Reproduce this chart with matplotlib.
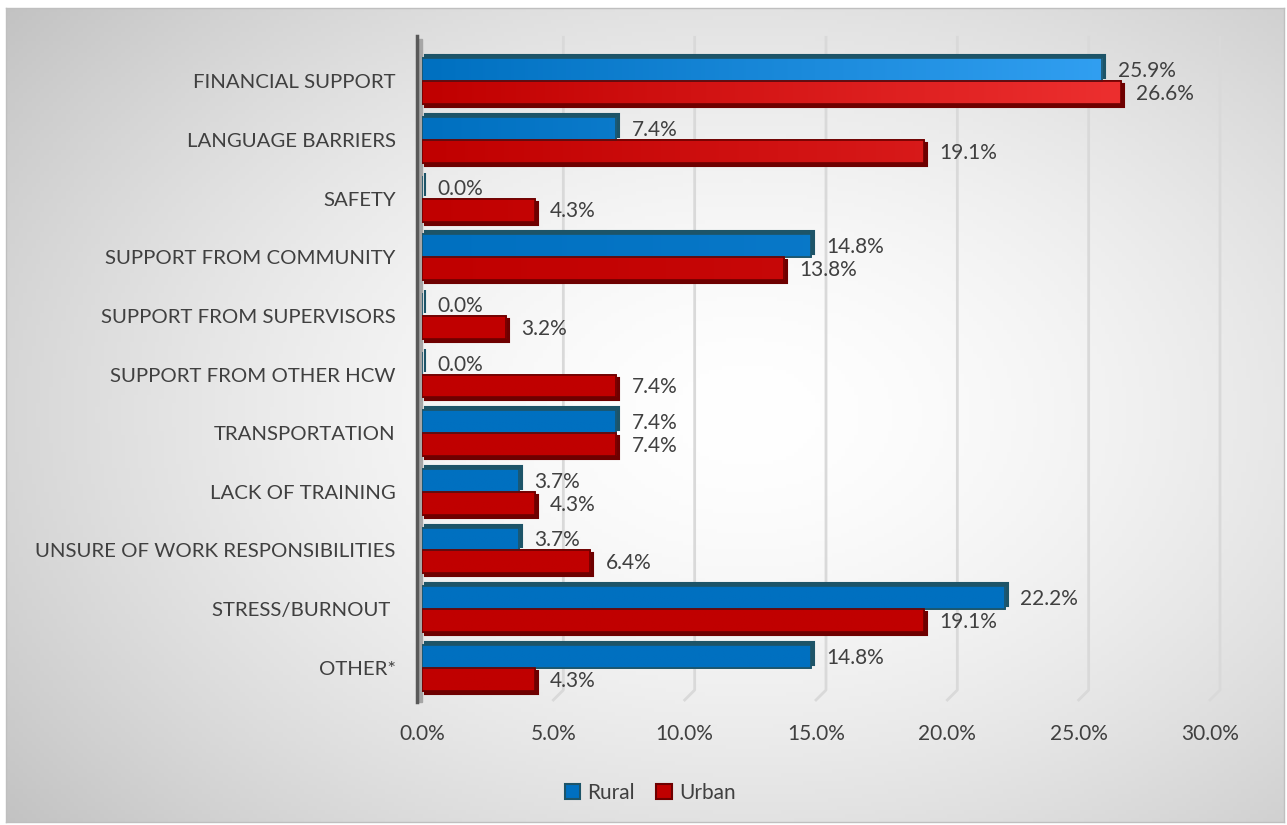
import numpy as np
import matplotlib
matplotlib.use("Agg")
import matplotlib.pyplot as plt
from matplotlib.transforms import ScaledTranslation
from matplotlib.patches import Rectangle
from matplotlib.lines import Line2D

# data (percent)
categories = ["FINANCIAL SUPPORT", "LANGUAGE BARRIERS", "SAFETY",
              "SUPPORT FROM COMMUNITY", "SUPPORT FROM SUPERVISORS",
              "SUPPORT FROM OTHER HCW", "TRANSPORTATION", "LACK OF TRAINING",
              "UNSURE OF WORK RESPONSIBILITIES", "STRESS/BURNOUT ", "OTHER*"]
rural = [25.9, 7.4, 0.0, 14.8, 0.0, 0.0, 7.4, 3.7, 3.7, 22.2, 14.8]
urban = [26.6, 19.1, 4.3, 13.8, 3.2, 7.4, 7.4, 4.3, 6.4, 19.1, 4.3]
xticks = [0, 5, 10, 15, 20, 25, 30]

plt.rcParams['font.family'] = ['Lato', 'DejaVu Sans']
text_col = "#404040"
blue, blue_dark, blue_light = "#0070C0", "#1d5468", "#38a6f8"
red, red_dark, red_light = "#C00000", "#6e0000", "#f23535"

fig = plt.figure(figsize=(12.87, 8.25), dpi=100)
W, H = 1287, 825

# background: radial grey gradient inside a thin border
bg = fig.add_axes([6 / W, 3 / H, 1278 / W, 814 / H])
yy, xx = np.mgrid[0:1:200j, 0:1:300j]
r = np.sqrt(((xx - 0.58) / 0.75) ** 2 + ((yy - 0.5) / 0.8) ** 2)
shade = 1.0 - 0.24 * np.clip(r, 0, 1) ** 1.6
bg.imshow(np.dstack([shade] * 3), extent=[0, 1, 0, 1], aspect="auto", origin="lower")
bg.set_xticks([])
bg.set_yticks([])
for s in bg.spines.values():
    s.set_color("#bfbfbf")
    s.set_linewidth(1)

ax = fig.add_axes([422 / W, 125 / H, 788 / W, 655 / H])
ax.patch.set_alpha(0)
n = len(categories)
y = np.arange(n)
h = 0.39

ax.set_xlim(0, 30)
ax.set_ylim(n - 0.45, -0.62)
px = 30 / 788  # one pixel in data units along x

# gridlines on the back wall + slanted floor segment
for t in xticks[1:]:
    ax.plot([t + 10 * px, t + 10 * px, t], [-0.75, n - 0.62, n - 0.45], color="#d9d9d9",
            lw=2, zorder=0, clip_on=False)

def lit(c0, c1, x, row):
    # light coming from the upper right
    k = np.clip(x / 30, 0, 1) * max(0.0, 1 - row / 5.0) ** 1.3
    a = np.array(matplotlib.colors.to_rgb(c0))
    b = np.array(matplotlib.colors.to_rgb(c1))
    return a[None, :] + k[:, None] * (b - a)[None, :]

def draw_series(vals, offs, face, dark, light, dy, label):
    dep = ScaledTranslation(3 / 100, dy / 100, fig.dpi_scale_trans)
    ax.barh(y + offs, vals, height=h, color=dark, edgecolor=dark, lw=1.5,
            transform=ax.transData + dep, zorder=2)
    bars = ax.barh(y + offs, vals, height=h, color=face, edgecolor=dark, lw=1.2,
                   zorder=3, label=label)
    for i, b in enumerate(bars):
        if vals[i] <= 0:
            continue
        xs = np.linspace(0, vals[i], 60)
        img = lit(face, light, xs, i)[None, :, :]
        im = ax.imshow(img, extent=[0, vals[i], y[i] + offs + h / 2, y[i] + offs - h / 2],
                       aspect="auto", zorder=3.5, interpolation="bilinear")
        im.set_clip_path(b)
        ax.add_patch(Rectangle(b.get_xy(), b.get_width(), b.get_height(), fill=False,
                               ec=dark, lw=1.2, zorder=3.6))
    return bars

draw_series(rural, -h / 2, blue, blue_dark, blue_light, 3, "Rural")
draw_series(urban, h / 2, red, red_dark, red_light, -3, "Urban")
ax.set_xlim(0, 30)
ax.set_ylim(n - 0.45, -0.62)

for i in range(n):
    ax.annotate(f"{rural[i]:.1f}%", (rural[i], y[i] - h / 2), xytext=(11, -1),
                textcoords="offset points", va="center", ha="left", fontsize=15, color=text_col)
    ax.annotate(f"{urban[i]:.1f}%", (urban[i], y[i] + h / 2), xytext=(11, -1),
                textcoords="offset points", va="center", ha="left", fontsize=15, color=text_col)

# left wall
ax.add_patch(Rectangle((-5 * px, -0.72), 5 * px, n + 0.3, color="#a6a6a6", zorder=1,
                       clip_on=False))
ax.add_line(Line2D([-5 * px, -5 * px], [n - 0.42, -0.78], color="#595959", lw=2.5,
                   clip_on=False, zorder=4))

ax.set_yticks(y)
ax.set_yticklabels(categories, fontsize=14.7, color=text_col)
ax.set_xticks(xticks)
ax.set_xticklabels([f"{t:.1f}%" for t in xticks], fontsize=15, color=text_col)
ax.tick_params(length=0)
ax.tick_params(axis="y", pad=19)
ax.tick_params(axis="x", pad=17)
for s in ax.spines.values():
    s.set_visible(False)

fig.legend(handles=[Rectangle((0, 0), 1, 1, fc=blue, ec=blue_dark, lw=1.5),
                    Rectangle((0, 0), 1, 1, fc=red, ec=red_dark, lw=1.5)],
           labels=["Rural", "Urban"], loc="center", bbox_to_anchor=(650 / W, 1 - 793 / H),
           ncol=2, frameon=False, fontsize=15, handlelength=0.75, handleheight=0.75,
           handletextpad=0.35, columnspacing=1.0, labelcolor=text_col)

fig.savefig("out.png", dpi=100)
